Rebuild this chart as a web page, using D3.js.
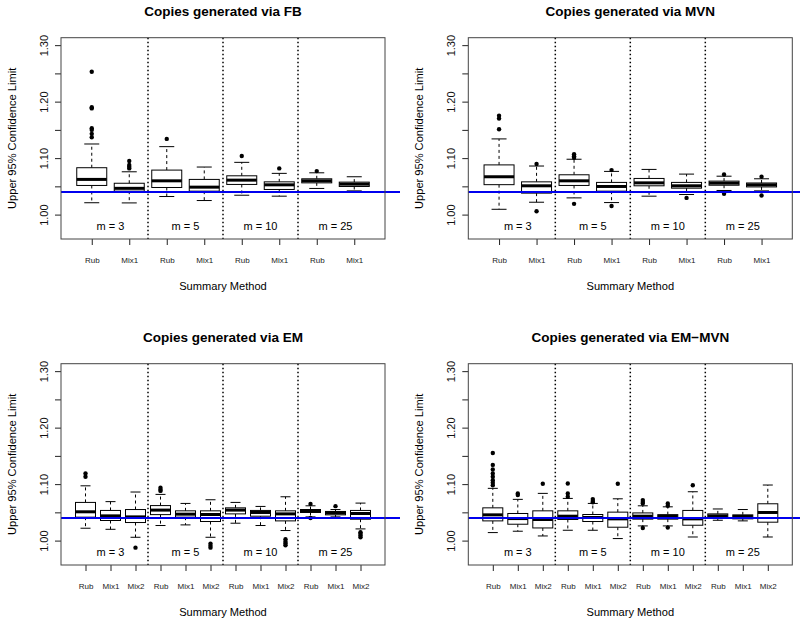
<!DOCTYPE html>
<html>
<head>
<meta charset="utf-8">
<script src="https://cdn.jsdelivr.net/npm/d3@7"></script>
<style>
  body { margin: 0; background: #fff; }
  svg { display: block; font-family: "Liberation Sans", Arial, Helvetica, sans-serif; }
</style>
</head>
<body>
<svg id="chart" width="800" height="624"></svg>
<script>
// ---------------- data ----------------
const panelTitles = ["Copies generated via FB", "Copies generated via MVN",
                     "Copies generated via EM", "Copies generated via EM\u2212MVN"];
const mLabels = ["m = 3", "m = 5", "m = 10", "m = 25"];
const methodsTwo = ["Rub", "Mix1"];
const methodsThree = ["Rub", "Mix1", "Mix2"];
const yTicks = [1.00, 1.05, 1.10, 1.15, 1.20, 1.25, 1.30];
const yTickLabels = ["1.00", "", "1.10", "", "1.20", "", "1.30"];
const refValue = 1.04;
const xTitle = "Summary Method";
const yTitle = "Upper 95% Confidence Limit";

// box stats: [lower whisker, Q1, median, Q3, upper whisker]
const fbStats = [
  [1.0210, 1.0516, 1.0623, 1.0830, 1.1250],
  [1.0207, 1.0415, 1.0465, 1.0555, 1.0758],
  [1.0320, 1.0480, 1.0598, 1.0788, 1.1203],
  [1.0249, 1.0415, 1.0486, 1.0623, 1.0842],
  [1.0343, 1.0534, 1.0610, 1.0687, 1.0925],
  [1.0326, 1.0445, 1.0527, 1.0580, 1.0730],
  [1.0463, 1.0562, 1.0598, 1.0634, 1.0740],
  [1.0420, 1.0498, 1.0539, 1.0575, 1.0670]
];
const fbOutliers = [
  [1.253, 1.190, 1.188, 1.153, 1.150, 1.143, 1.137],
  [1.0948, 1.0877, 1.0847, 1.0818],
  [1.134], [], [1.1037], [1.0818], [1.077], []
];
const mvnStats = [
  [1.0094, 1.0530, 1.0670, 1.0880, 1.1340],
  [1.0219, 1.0380, 1.0510, 1.0580, 1.0860],
  [1.0296, 1.0516, 1.0598, 1.0705, 1.0980],
  [1.0213, 1.0415, 1.0498, 1.0570, 1.0765],
  [1.0326, 1.0510, 1.0562, 1.0640, 1.0800],
  [1.0356, 1.0468, 1.0510, 1.0570, 1.0717],
  [1.0427, 1.0520, 1.0557, 1.0593, 1.0680],
  [1.0420, 1.0490, 1.0527, 1.0560, 1.0634]
];
const mvnOutliers = [
  [1.175, 1.170, 1.151],
  [1.0895, 1.0059],
  [1.107, 1.1035, 1.1007, 1.019],
  [1.0788, 1.0153],
  [], [1.0296], [1.071, 1.0367], [1.067, 1.0338]
];
const emStats = [
  [1.0219, 1.0415, 1.0510, 1.0676, 1.0970],
  [1.0200, 1.0356, 1.0438, 1.0534, 1.0690],
  [1.0059, 1.0320, 1.0420, 1.0550, 1.0860],
  [1.0267, 1.0460, 1.0540, 1.0620, 1.0818],
  [1.0278, 1.0415, 1.0468, 1.0527, 1.0658],
  [1.0059, 1.0338, 1.0462, 1.0527, 1.0723],
  [1.0308, 1.0473, 1.0540, 1.0580, 1.0676],
  [1.0267, 1.0432, 1.0498, 1.0534, 1.0605],
  [1.0178, 1.0349, 1.0473, 1.0527, 1.0776],
  [1.0420, 1.0498, 1.0527, 1.0550, 1.0616],
  [1.0420, 1.0456, 1.0490, 1.0516, 1.0550],
  [1.0207, 1.0379, 1.0480, 1.0534, 1.0664]
];
const emOutliers = [
  [1.119, 1.113], [], [0.9875],
  [1.0936, 1.090, 1.088], [], [0.9947, 0.991, 0.9875],
  [], [], [1.0023, 0.998, 0.995, 0.9916],
  [1.065, 1.040], [1.061], [1.015, 1.012, 1.009, 1.006]
];
const emMvnStats = [
  [1.0142, 1.0349, 1.0456, 1.0580, 1.0925],
  [1.0166, 1.0290, 1.0390, 1.0480, 1.0730],
  [1.0082, 1.0224, 1.0374, 1.0527, 1.0836],
  [1.0183, 1.0374, 1.0432, 1.0527, 1.0747],
  [1.0183, 1.0338, 1.0409, 1.0462, 1.0658],
  [1.0036, 1.0237, 1.0385, 1.0504, 1.0740],
  [1.0260, 1.0380, 1.0432, 1.0490, 1.0616],
  [1.0260, 1.0380, 1.0427, 1.0460, 1.0598],
  [1.0064, 1.0272, 1.0385, 1.0534, 1.0865],
  [1.0360, 1.0402, 1.0438, 1.0473, 1.0560],
  [1.0349, 1.0385, 1.0427, 1.0456, 1.0550],
  [1.0064, 1.0326, 1.0498, 1.0652, 1.0984]
];
const emMvnOutliers = [
  [1.155, 1.134, 1.126, 1.119, 1.113, 1.107, 1.1025, 1.098],
  [1.0836, 1.0806], [1.1007],
  [1.101, 1.0836, 1.0776], [1.0735, 1.070, 1.068], [1.1007],
  [1.0717, 1.0685, 1.0658, 1.0224], [1.0658, 1.0616, 1.023], [1.098],
  [], [], []
];

// ---------------- drawing ----------------
const svg = d3.select("#chart");
const panels = [
  { title: panelTitles[0], stats: fbStats, outliers: fbOutliers, methods: methodsTwo, left: 61, top: 37.7 },
  { title: panelTitles[1], stats: mvnStats, outliers: mvnOutliers, methods: methodsTwo, left: 468.3, top: 37.7 },
  { title: panelTitles[2], stats: emStats, outliers: emOutliers, methods: methodsThree, left: 61, top: 363.7 },
  { title: panelTitles[3], stats: emMvnStats, outliers: emMvnOutliers, methods: methodsThree, left: 468.3, top: 363.7 }
];
const plotW = 324, plotH = 201.3;

panels.forEach(p => {
  const n = p.stats.length;
  const k = p.methods.length;
  const cats = [];
  mLabels.forEach(() => p.methods.forEach(m => cats.push(m)));
  const ext = 0.04 * n;
  const x = d3.scaleLinear().domain([0.5 - ext, n + 0.5 + ext]).range([0, plotW]);
  const y = d3.scaleLinear().domain([0.9568, 1.3132]).range([plotH, 0]);
  const step = x(2) - x(1);
  const bw = 0.8 * step;
  const cw = 0.4 * step;

  const g = svg.append("g").attr("transform", `translate(${p.left},${p.top})`);

  // title
  g.append("text").attr("x", plotW / 2).attr("y", -22)
    .attr("text-anchor", "middle").attr("font-weight", "bold").attr("font-size", 13.5)
    .text(p.title);

  // y axis
  const yAxis = d3.axisLeft(y).tickValues(yTicks).tickSize(6).tickSizeOuter(0)
    .tickFormat((d, i) => yTickLabels[i]);
  const ya = g.append("g").call(yAxis);
  ya.select(".domain").remove();
  ya.selectAll("line").attr("stroke", "#222");
  ya.selectAll("text")
    .attr("transform", "rotate(-90)").attr("x", 0).attr("y", -13.5).attr("dy", 0)
    .attr("text-anchor", "middle").attr("font-size", 11).attr("fill", "#111")
    .attr("font-family", "Liberation Sans, Arial, sans-serif");

  // x axis
  const xAxis = d3.axisBottom(x).tickValues(d3.range(1, n + 1)).tickSize(6).tickSizeOuter(0)
    .tickFormat((d, i) => cats[i]);
  const xa = g.append("g").attr("transform", `translate(0,${plotH})`).call(xAxis);
  xa.select(".domain").remove();
  xa.selectAll("line").attr("stroke", "#222");
  xa.selectAll("text").attr("y", 24).attr("dy", 0).attr("font-size", 8).attr("fill", "#222")
    .attr("font-family", "Liberation Sans, Arial, sans-serif");

  // axis titles
  g.append("text").attr("x", plotW / 2).attr("y", plotH + 51)
    .attr("text-anchor", "middle").attr("font-size", 11.1).text(xTitle);
  g.append("text").attr("transform", `translate(-45,${plotH / 2}) rotate(-90)`)
    .attr("text-anchor", "middle").attr("font-size", 11.1).text(yTitle);

  // boxes
  const bg = g.append("g");
  p.stats.forEach((s, i) => {
    const cx = x(i + 1);
    const [lo, q1, med, q3, hi] = s;
    // whiskers
    bg.append("line").attr("x1", cx).attr("x2", cx).attr("y1", y(q3)).attr("y2", y(hi))
      .attr("stroke", "#000").attr("stroke-dasharray", "3,3");
    bg.append("line").attr("x1", cx).attr("x2", cx).attr("y1", y(q1)).attr("y2", y(lo))
      .attr("stroke", "#000").attr("stroke-dasharray", "3,3");
    // caps
    [lo, hi].forEach(v => bg.append("line").attr("x1", cx - cw / 2).attr("x2", cx + cw / 2)
      .attr("y1", y(v)).attr("y2", y(v)).attr("stroke", "#000"));
    // box
    bg.append("rect").attr("x", cx - bw / 2).attr("y", y(q3)).attr("width", bw)
      .attr("height", y(q1) - y(q3)).attr("fill", "#fff").attr("stroke", "#000");
    // median
    bg.append("line").attr("x1", cx - bw / 2).attr("x2", cx + bw / 2)
      .attr("y1", y(med)).attr("y2", y(med)).attr("stroke", "#000").attr("stroke-width", 3);
    // outliers
    p.outliers[i].forEach(v => bg.append("circle").attr("cx", cx).attr("cy", y(v))
      .attr("r", 2.2).attr("fill", "#000"));
  });

  // dotted separators
  [1, 2, 3].forEach(j => {
    const xv = x(j * k + 0.5);
    g.append("line").attr("x1", xv).attr("x2", xv).attr("y1", 0).attr("y2", plotH)
      .attr("stroke", "#000").attr("stroke-width", 1.5).attr("stroke-dasharray", "1.5,2.5");
  });

  // m labels
  mLabels.forEach((lab, j) => {
    g.append("text").attr("x", x(j * k + (k + 1) / 2)).attr("y", plotH - 9)
      .attr("text-anchor", "middle").attr("font-size", 11).text(lab);
  });

  // reference line
  g.append("line").attr("x1", 0).attr("x2", plotW + 15).attr("y1", y(refValue)).attr("y2", y(refValue))
    .attr("stroke", "#0000ee").attr("stroke-width", 2);

  // frame
  g.append("rect").attr("x", 0).attr("y", 0).attr("width", plotW).attr("height", plotH)
    .attr("fill", "none").attr("stroke", "#444");
});
</script>
</body>
</html>
